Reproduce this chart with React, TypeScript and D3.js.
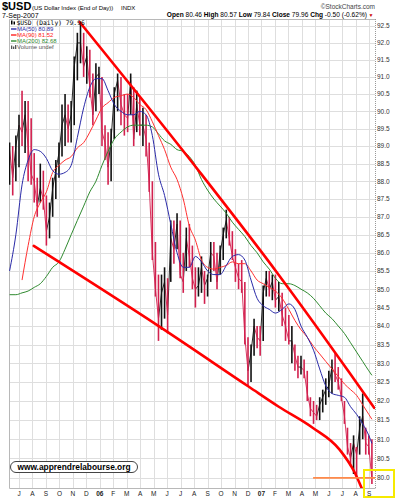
import React, { useEffect, useRef } from "react";
import * as d3 from "d3";

// weekly bars, first bar is the week ending on this Friday
const firstWeek = "2005-06-10";

const weekHigh = [
  89.1, 89.0, 89.3, 89.9, 90.6, 90.3, 90.3, 89.8, 88.8, 88.1,
  88.5, 88.3, 87.6, 87.4, 88.1, 88.6, 89.1, 90.2, 90.5, 90.2,
  90.3, 91.6, 92.3, 92.6, 92.3, 91.9, 91.8, 91.1, 91.4, 91.3,
  91.0, 89.6, 89.4, 89.5, 90.7, 91.1, 91.0, 90.5, 90.5, 91.1,
  90.7, 90.6, 90.4, 90.1, 89.9, 89.1, 88.0, 86.3, 85.4, 85.4,
  85.6, 85.3, 86.9, 86.9, 87.1, 86.9, 86.0, 86.7, 86.8, 86.2,
  85.6, 85.6, 85.9, 85.5, 85.4, 86.3, 86.3, 86.0, 86.2, 86.7,
  87.2, 87.0, 86.6, 86.1, 85.7, 85.8, 85.2, 83.7, 83.5, 84.2,
  84.0, 84.0, 85.1, 85.5, 85.5, 85.4, 85.4, 85.2, 84.9, 84.5,
  84.3, 84.0, 83.5, 83.2, 83.2, 83.1, 82.8, 82.1, 82.0, 81.9,
  82.1, 82.3, 82.6, 82.8, 83.1, 83.3, 82.9, 82.6, 82.0, 81.3,
  80.9, 81.1, 80.8, 81.6, 82.2, 81.3, 81.1, 81.0,
];

const weekLow = [
  87.9, 87.6, 88.0, 88.4, 89.0, 88.8, 88.0, 87.9, 87.4, 87.0,
  87.4, 87.2, 86.2, 86.4, 87.0, 87.5, 88.1, 88.7, 89.0, 89.1,
  89.1, 89.6, 90.9, 91.4, 91.0, 90.8, 90.4, 89.6, 90.0, 90.5,
  89.0, 88.6, 87.9, 88.0, 89.2, 90.0, 89.6, 89.3, 89.4, 89.9,
  89.0, 89.4, 89.3, 89.0, 88.7, 87.7, 85.8, 84.8, 83.6, 83.9,
  84.2, 83.8, 85.2, 85.7, 86.1, 85.3, 84.9, 85.5, 85.6, 85.0,
  84.5, 84.8, 84.9, 84.6, 84.8, 85.2, 85.5, 85.0, 85.4, 85.8,
  86.4, 86.2, 85.8, 85.2, 85.0, 84.9, 83.5, 82.4, 82.5, 83.2,
  83.4, 83.2, 83.6, 84.8, 84.8, 84.7, 84.5, 84.4, 84.0, 83.6,
  83.5, 83.0, 82.8, 82.6, 82.7, 82.6, 82.0, 81.6, 81.4, 81.5,
  81.5, 81.7, 81.9, 82.1, 82.2, 82.5, 82.3, 82.0, 81.4, 80.6,
  80.3, 80.1, 80.0, 80.6, 81.0, 80.6, 80.6, 79.84,
];

const weekClose = [
  88.9, 88.1, 89.0, 89.6, 89.4, 89.9, 89.0, 88.2, 88.0, 87.3,
  87.8, 87.5, 86.6, 87.0, 87.8, 88.3, 88.8, 89.6, 89.9, 89.5,
  89.9, 91.3, 92.0, 92.0, 91.3, 91.6, 90.7, 89.9, 91.0, 91.1,
  89.4, 89.1, 88.4, 89.2, 90.5, 90.9, 90.2, 89.9, 89.8, 90.9,
  89.2, 90.2, 89.6, 89.6, 89.2, 87.9, 86.0, 85.0, 84.2, 84.9,
  85.2, 84.3, 86.4, 86.1, 86.8, 85.4, 85.2, 86.4, 85.9, 85.3,
  85.0, 85.1, 85.6, 85.1, 85.3, 86.0, 85.9, 85.2, 86.0, 86.5,
  86.9, 86.4, 85.9, 85.6, 85.3, 85.2, 83.7, 82.8, 83.3, 84.0,
  83.7, 83.6, 84.9, 85.3, 85.0, 85.2, 84.7, 84.8, 84.3, 84.0,
  83.6, 83.6, 83.2, 82.9, 82.9, 82.8, 82.2, 81.8, 81.7, 81.6,
  81.9, 82.1, 82.3, 82.4, 82.9, 82.7, 82.5, 82.1, 81.6, 80.8,
  80.5, 80.9, 80.6, 81.3, 81.6, 80.9, 80.8, 79.96,
];

// moving averages read every second week, plus the last bar
const ma50 = [
  85.5, 86.5, 87.9, 88.6, 88.9, 88.85, 88.65, 88.3, 88.2, 88.25,
  88.45, 89.25, 90.1, 90.7, 90.95, 90.95, 90.6, 90.2, 90.0, 89.9,
  89.9, 90.0, 89.9, 89.3, 88.2, 87.6, 86.8, 86.0, 85.6, 85.6,
  85.9, 85.75, 85.5, 85.4, 85.4, 85.65, 85.9, 85.95, 85.8, 85.25,
  84.75, 84.55, 84.45, 84.35, 84.45, 84.6, 84.45, 84.0, 83.7, 83.35,
  82.85, 82.4, 82.2, 82.15, 82.1, 81.85, 81.65, 81.4, 81.1, 80.89,
];
const ma90 = [
  null, null, 85.25, 86.2, 87.0, 87.4, 87.7, 88.25, 88.45, 88.6,
  88.7, 88.95, 89.1, 89.4, 89.75, 90.1, 90.25, 90.4, 90.45, 90.5,
  90.4, 90.2, 90.05, 89.7, 89.3, 88.9, 88.4, 88.05, 87.5, 86.75,
  86.35, 85.8, 85.6, 85.55, 85.6, 85.65, 85.75, 85.7, 85.7, 85.5,
  85.25, 85.15, 85.05, 84.95, 84.75, 84.45, 84.15, 83.9, 83.7, 83.45,
  83.25, 83.05, 82.85, 82.65, 82.45, 82.3, 82.15, 81.9, 81.65, 81.52,
];
const ma200 = [
  84.85, 84.85, 84.9, 84.95, 85.05, 85.15, 85.35, 85.6, 85.75, 86.1,
  86.5, 86.9, 87.3, 87.7, 88.0, 88.45, 88.85, 89.2, 89.4, 89.55,
  89.6, 89.6, 89.6, 89.55, 89.35, 89.15, 89.05, 88.9, 88.85, 88.7,
  88.45, 88.05, 87.75, 87.5, 87.3, 87.1, 86.85, 86.65, 86.45, 86.2,
  86.0, 85.75, 85.55, 85.3, 85.15, 85.15, 85.1, 85.0, 84.9, 84.75,
  84.55, 84.35, 84.2, 84.0, 83.8, 83.55, 83.3, 83.05, 82.8, 82.68,
];

// hand drawn annotations
const upperTrend: [string, number][] = [
  ["2005-11-16", 92.62], ["2006-08-14", 88.26], ["2007-02-09", 85.39],
  ["2007-07-18", 82.74], ["2007-09-12", 81.82],
];
const lowerTrend: [string, number][] = [
  ["2005-08-04", 86.19], ["2006-05-16", 83.97], ["2006-12-04", 82.37],
  ["2007-02-09", 81.85], ["2007-04-25", 81.3], ["2007-06-25", 80.73],
  ["2007-07-29", 80.15], ["2007-08-16", 79.7],
];
const supportLevel = 80.0;
const supportFrom = "2007-04-26";

const monthLabels = [
  "J", "A", "S", "O", "N", "D", "06", "F", "M", "A", "M", "J", "J", "A",
  "S", "O", "N", "D", "07", "F", "M", "A", "M", "J", "J", "A", "S",
];
const priceTicks = d3.range(80, 92.51, 0.5);

const FONT = "Liberation Sans, Arial, sans-serif";
const UP = "#111";
const DOWN = "#d2204e";

const App: React.FC = () => {
  const svgRef = useRef<SVGSVGElement | null>(null);

  useEffect(() => {
    if (!svgRef.current) return;
    const svg = d3.select(svgRef.current);
    svg.selectAll("*").remove();

    const width = 399;
    const height = 499;
    const plot = { left: 9, right: 375, top: 19, bottom: 488 };
    const parse = d3.timeParse("%Y-%m-%d");
    const start = parse(firstWeek)!;
    const weekDate = (i: number) => d3.timeDay.offset(start, 7 * i);

    svg.attr("width", width).attr("height", height);
    svg.append("rect").attr("width", width).attr("height", height).attr("fill", "#fff");

    // month slots are equal width on this chart
    const months = d3.timeMonth.range(new Date(2005, 5, 1), new Date(2007, 9, 2));
    const x = d3
      .scaleTime()
      .domain(months)
      .range(months.map((_, k) => 19 + 13.47 * (k - 1)));
    const y = d3.scaleLog().domain([79.74, 92.71]).range([plot.bottom, plot.top]);

    svg
      .append("defs")
      .append("clipPath")
      .attr("id", "plotClip")
      .append("rect")
      .attr("x", plot.left)
      .attr("y", plot.top)
      .attr("width", plot.right - plot.left)
      .attr("height", plot.bottom - plot.top);

    // grid
    const grid = svg.append("g");
    grid
      .selectAll("line.h")
      .data(priceTicks)
      .enter()
      .append("line")
      .attr("x1", plot.left)
      .attr("x2", plot.right)
      .attr("y1", (d) => Math.round(y(d)) + 0.5)
      .attr("y2", (d) => Math.round(y(d)) + 0.5)
      .attr("stroke", "#dedede");
    const tickMonths = months.slice(1, 1 + monthLabels.length);
    grid
      .selectAll("line.v")
      .data(tickMonths)
      .enter()
      .append("line")
      .attr("x1", (d) => Math.round(x(d)) + 0.5)
      .attr("x2", (d) => Math.round(x(d)) + 0.5)
      .attr("y1", plot.top)
      .attr("y2", plot.bottom)
      .attr("stroke", "#dedede");

    // frame
    svg
      .append("path")
      .attr("d", `M${plot.right + 0.5},${plot.top + 0.5}H${plot.left + 0.5}V${plot.bottom + 0.5}H${plot.right + 0.5}`)
      .attr("fill", "none")
      .attr("stroke", "#b8b8b8");
    svg
      .append("line")
      .attr("x1", plot.right + 0.5)
      .attr("x2", plot.right + 0.5)
      .attr("y1", plot.top)
      .attr("y2", plot.bottom)
      .attr("stroke", "#999")
      .attr("stroke-dasharray", "1,1");

    const g = svg.append("g").attr("clip-path", "url(#plotClip)");

    // price bars
    const bars = weekHigh.map((hi, i) => ({
      i,
      date: weekDate(i),
      hi,
      lo: weekLow[i],
      close: weekClose[i],
      up: i === 0 || weekClose[i] >= weekClose[i - 1],
    }));
    // close-to-close links so the weekly bars read as one jagged band
    g.selectAll("line.link")
      .data(bars.slice(1))
      .enter()
      .append("line")
      .attr("x1", (d) => x(weekDate(d.i - 1)))
      .attr("x2", (d) => x(d.date))
      .attr("y1", (d) => y(weekClose[d.i - 1]))
      .attr("y2", (d) => y(d.close))
      .attr("stroke", (d) => (d.up ? UP : DOWN))
      .attr("stroke-width", 0.9);
    g.selectAll("line.bar")
      .data(bars)
      .enter()
      .append("line")
      .attr("x1", (d) => x(d.date))
      .attr("x2", (d) => x(d.date))
      .attr("y1", (d) => y(d.hi))
      .attr("y2", (d) => y(d.lo))
      .attr("stroke", (d) => (d.up ? UP : DOWN))
      .attr("stroke-width", 1.6);

    // moving averages
    const maIdx = d3.range(0, weekHigh.length - 1, 2).concat(weekHigh.length - 1);
    const maLine = d3
      .line<number | null>()
      .defined((d) => d !== null)
      .x((_, k) => x(weekDate(maIdx[k])))
      .y((d) => y(d as number))
      .curve(d3.curveMonotoneX);
    const mas: [(number | null)[], string][] = [
      [ma200, "#2f8a2f"],
      [ma90, "#ff3030"],
      [ma50, "#2a2aa8"],
    ];
    mas.forEach(([vals, color]) => {
      g.append("path")
        .attr("d", maLine(vals))
        .attr("fill", "none")
        .attr("stroke", color)
        .attr("stroke-width", 1);
    });

    // trend lines
    const trendLine = d3
      .line<[string, number]>()
      .x((d) => x(parse(d[0])!))
      .y((d) => y(d[1]))
      .curve(d3.curveMonotoneX);
    [upperTrend, lowerTrend].forEach((pts) => {
      g.append("path")
        .attr("d", trendLine(pts))
        .attr("fill", "none")
        .attr("stroke", "#ff0000")
        .attr("stroke-width", 2.6)
        .attr("stroke-linecap", "round");
    });

    g.append("line")
      .attr("x1", x(parse(supportFrom)!))
      .attr("x2", plot.right)
      .attr("y1", y(supportLevel))
      .attr("y2", y(supportLevel))
      .attr("stroke", "#ff8a4a")
      .attr("stroke-width", 1.6);

    // right axis labels
    svg
      .append("g")
      .selectAll("text")
      .data(priceTicks)
      .enter()
      .append("text")
      .attr("x", 377)
      .attr("y", (d) => y(d) + 2.3)
      .attr("font-family", FONT)
      .attr("font-size", 6.5)
      .attr("fill", "#333")
      .text((d) => d.toFixed(1));

    // month labels
    svg
      .append("g")
      .selectAll("text")
      .data(tickMonths)
      .enter()
      .append("text")
      .attr("x", (d) => x(d))
      .attr("y", 496)
      .attr("text-anchor", "middle")
      .attr("font-family", FONT)
      .attr("font-size", 6.5)
      .attr("font-weight", (_, k) => (monthLabels[k].length > 1 ? "bold" : "normal"))
      .attr("fill", "#222")
      .text((_, k) => monthLabels[k]);

    // header
    const txt = (xx: number, yy: number, s: string, size: number, opts: any = {}) =>
      svg
        .append("text")
        .attr("x", xx)
        .attr("y", yy)
        .attr("font-family", opts.family || FONT)
        .attr("font-size", size)
        .attr("font-weight", opts.bold ? "bold" : "normal")
        .attr("fill", opts.fill || "#000")
        .attr("text-anchor", opts.anchor || "start")
        .text(s);

    txt(2, 10, "$USD", 11, { bold: true });
    txt(32, 9.5, "(US Dollar Index (End of Day))", 6);
    txt(121, 9.5, "INDX", 6);
    txt(2, 17.5, "7-Sep-2007", 7);
    txt(375, 8.5, "\u00a9StockCharts.com", 6.5, { anchor: "end", fill: "#444" });

    const info = svg
      .append("text")
      .attr("x", 367)
      .attr("y", 17)
      .attr("text-anchor", "end")
      .attr("font-family", FONT)
      .attr("font-size", 6.6)
      .attr("fill", "#000");
    const infoParts: [string, boolean][] = [
      ["Open", true], [" 80.46 ", false], ["High", true], [" 80.57 ", false],
      ["Low", true], [" 79.84 ", false], ["Close", true], [" 79.96 ", false],
      ["Chg", true], [" -0.50 (-0.62%)", false],
    ];
    infoParts.forEach(([s, b]) => {
      info.append("tspan").attr("font-weight", b ? "bold" : "normal").text(s);
    });
    txt(368.5, 17, "\u25BC", 5, { fill: "#cc0000" });

    // legend
    svg.append("rect").attr("x", 11).attr("y", 20.5).attr("width", 1.5).attr("height", 4).attr("fill", "#000");
    svg.append("rect").attr("x", 13.5).attr("y", 21.5).attr("width", 1.5).attr("height", 3).attr("fill", "#000");
    txt(16.5, 25, "$USD (Daily) 79.96", 6.3, { family: "DejaVu Sans Mono, monospace" });
    const legendItems: [string, string, number][] = [
      ["MA(50) 80.89", "#2a2aa8", 31],
      ["MA(90) 81.52", "#ff2020", 37],
      ["MA(200) 82.68", "#2f8a2f", 43],
    ];
    legendItems.forEach(([s, c, yy]) => {
      svg.append("line").attr("x1", 11).attr("x2", 16.5).attr("y1", yy - 2).attr("y2", yy - 2).attr("stroke", c).attr("stroke-width", 1.4);
      txt(17, yy, s, 6, { fill: c });
    });
    svg.append("rect").attr("x", 11).attr("y", 45.5).attr("width", 1.3).attr("height", 3.5).attr("fill", "#555");
    svg.append("rect").attr("x", 13).attr("y", 46.5).attr("width", 1.3).attr("height", 2.5).attr("fill", "#555");
    svg.append("rect").attr("x", 15).attr("y", 45).attr("width", 1.3).attr("height", 4).attr("fill", "#555");
    txt(17, 49, "Volume undef", 6, { fill: "#555" });

    // watermark
    svg
      .append("rect")
      .attr("x", 10.5)
      .attr("y", 461.5)
      .attr("width", 127)
      .attr("height", 11)
      .attr("rx", 5.5)
      .attr("fill", "#fff")
      .attr("stroke", "#444");
    txt(74, 470.3, "www.apprendrelabourse.org", 8.4, { bold: true, anchor: "middle" });

    // highlight box
    svg
      .append("rect")
      .attr("x", 364)
      .attr("y", 470)
      .attr("width", 30)
      .attr("height", 27)
      .attr("fill", "none")
      .attr("stroke", "#f6ea00")
      .attr("stroke-width", 2);
  }, []);

  return <svg ref={svgRef} style={{ position: "absolute", left: 0, top: 0 }}></svg>;
};

export default App;
